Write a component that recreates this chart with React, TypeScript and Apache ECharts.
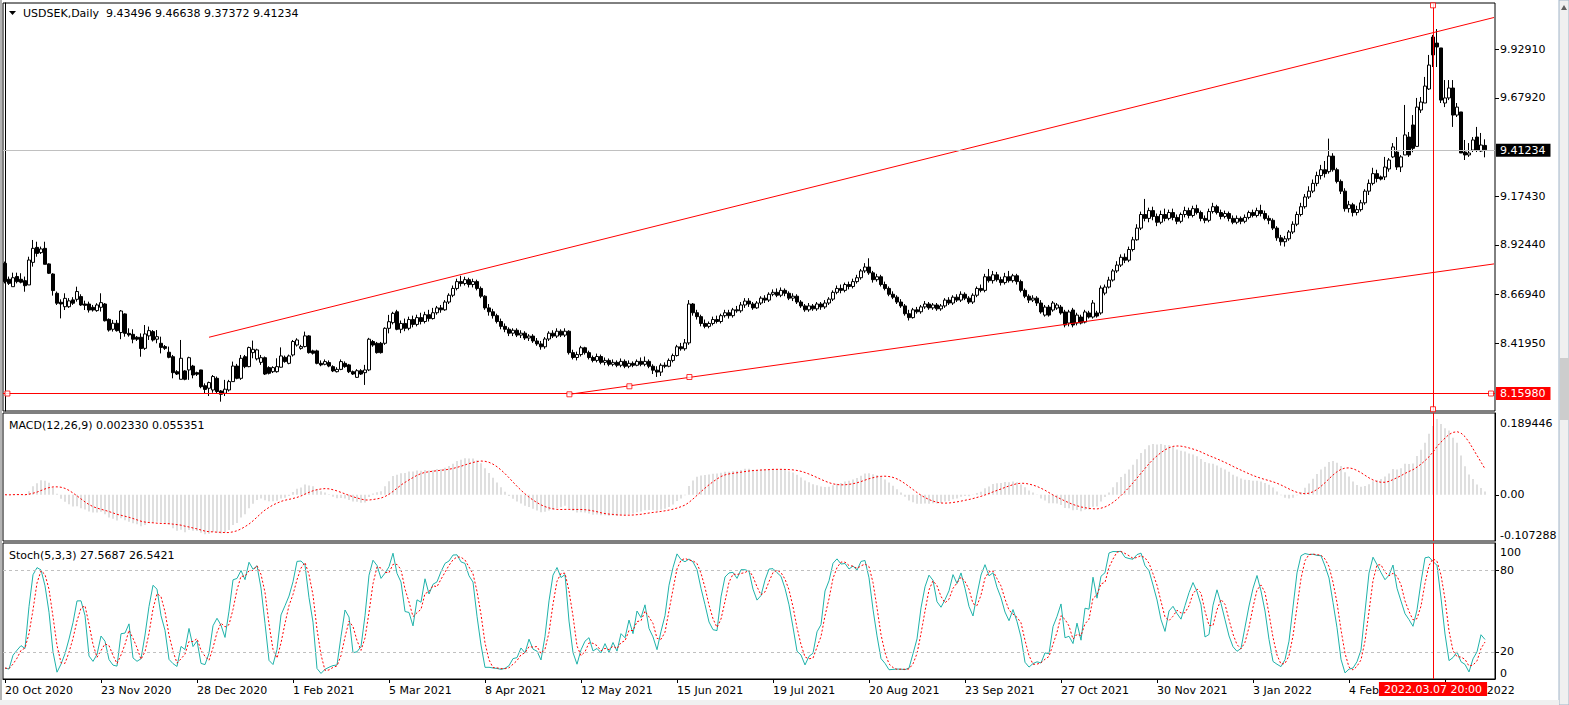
import React, { useEffect, useRef } from "react";
import * as echarts from "echarts";

const MONTHS = ["Jan", "Feb", "Mar", "Apr", "May", "Jun", "Jul", "Aug", "Sep", "Oct", "Nov", "Dec"];
const SLOTS = 373;
const LABEL_EVERY = 24;

const priceTicks = [8.4195, 8.6694, 8.9244, 9.1743, 9.6792, 9.9291];
const macdTicks = [-0.107288, 0, 0.189446];
const stochTicks = [0, 20, 80, 100];
const stochLevels = [20, 80];
const bidPrice = 9.41234;
const hLinePrice = 8.1598;
const vLineIndex = 357;
const vLineLabel = "2022.03.07 20:00";
const upperTrend = [[51, 8.449], [372.25, 10.0925]];
const lowerTrend = [[141.1, 8.1558], [372.25, 8.826]];
const handles = [[141.1, 8.1558], [156.1, 8.197], [171.1, 8.2447], [0.6, 8.1598], [371.5, 8.1598], [357, 10.155], [357, 8.079]];

const open = [8.829,8.747,8.709,8.761,8.747,8.740,8.718,8.834,8.911,8.884, 8.906,8.826,8.774,8.675,8.629,8.606,8.606,8.641,8.644,8.658, 8.620,8.620,8.603,8.586,8.603,8.620,8.541,8.490,8.521,8.473, 8.569,8.469,8.464,8.449,8.449,8.392,8.456,8.478,8.439,8.418, 8.401,8.372,8.349,8.272,8.233,8.276,8.281,8.301,8.267,8.281, 8.200,8.187,8.178,8.238,8.173,8.161,8.178,8.221,8.301,8.238, 8.349,8.298,8.370,8.338,8.320,8.344,8.293,8.272,8.272,8.295, 8.346,8.315,8.358,8.409,8.392,8.401,8.456,8.379,8.379,8.315, 8.310,8.319,8.298,8.272,8.284,8.315,8.307,8.272,8.243,8.277, 8.267,8.281,8.427,8.418,8.418,8.418,8.495,8.524,8.580,
8.490,8.520,8.495,8.540,8.515,8.550,8.530,8.565,8.545,8.575, 8.600,8.590,8.630,8.665,8.700,8.735,8.725,8.745,8.720,8.735, 8.700,8.660,8.600,8.580,8.560,8.530,8.505,8.490,8.470,8.485, 8.460,8.470,8.445,8.455,8.430,8.415,8.400,8.440,8.470,8.455, 8.480,8.460,8.480,8.370,8.345,8.360,8.395,8.370,8.345,8.330, 8.350,8.320,8.330,8.310,8.320,8.305,8.325,8.300,8.315,8.305, 8.325,8.310,8.325,8.300,8.280,8.270,8.305,8.300,8.330,8.355, 8.400,8.390,8.420,8.620,8.575,8.555,8.520,8.505,8.520,8.540, 8.530,8.560,8.575,8.560,8.590,8.585,8.615,8.635,8.620,8.600, 8.625,8.650,8.640,8.670,8.680,8.665,8.690,8.675,8.650,8.660, 8.630,8.610,8.590,8.610,8.595,8.620,8.605,8.625,8.645,8.680, 8.700,8.690,8.720,8.710,8.735,8.755,8.790,8.810,8.780,8.745, 8.760,8.720,8.700,8.670,8.655,8.630,8.610,8.570,8.550,8.590, 8.580,8.605,8.620,8.600,8.615,8.595,8.610,8.640,8.625,8.655, 8.640,8.670,8.650,8.630,8.665,8.700,8.690,8.760,8.740,8.770, 8.745,8.730,8.760,8.740,8.765,8.735,8.690,8.660,8.640,8.650, 8.625,8.563,8.604,8.589,8.599,8.604,8.579,8.522,8.589,8.522, 8.553,8.527,8.574,8.553,8.574,8.574,8.676,8.707,8.743,8.790, 8.820,8.860,8.845,8.900,8.950,9.010,9.080,9.060,9.100,9.070, 9.040,9.080,9.060,9.090,9.065,9.045,9.080,9.100,9.075,9.110, 9.090,9.060,9.050,9.095,9.120,9.090,9.070,9.085,9.060,9.040, 9.060,9.045,9.065,9.090,9.075,9.100,9.085,9.060,9.050,9.010, 8.960,8.940,8.955,8.990,9.030,9.080,9.120,9.170,9.200,9.240, 9.280,9.310,9.300,9.380,9.310,9.250,9.200,9.110,9.130,9.090, 9.105,9.140,9.200,9.240,9.290,9.273,9.273,9.314,9.376,9.401, 9.324,9.386,9.478,9.540,9.430,9.617,9.653,9.725,9.992,9.961, 9.936,9.653,9.679,9.730,9.591,9.607,9.401,9.386,9.411,9.478, 9.406,9.43496];
const high = [8.838,8.761,8.781,8.781,8.778,8.761,8.863,8.949,8.940,8.915, 8.940,8.829,8.778,8.684,8.644,8.675,8.650,8.655,8.709,8.670, 8.637,8.632,8.615,8.624,8.675,8.625,8.546,8.538,8.538,8.589, 8.572,8.495,8.490,8.455,8.469,8.512,8.504,8.486,8.486,8.452, 8.409,8.401,8.358,8.280,8.435,8.280,8.349,8.307,8.272,8.282, 8.212,8.221,8.255,8.247,8.178,8.230,8.230,8.324,8.312,8.358, 8.358,8.401,8.432,8.390,8.358,8.350,8.300,8.300,8.341,8.397, 8.355,8.360,8.435,8.444,8.410,8.478,8.460,8.385,8.385,8.330, 8.335,8.330,8.305,8.295,8.335,8.325,8.312,8.278,8.285,8.285, 8.307,8.446,8.435,8.425,8.425,8.500,8.564,8.580,8.590,
8.535,8.545,8.555,8.560,8.565,8.575,8.580,8.590,8.600,8.610, 8.615,8.640,8.675,8.715,8.750,8.765,8.760,8.755,8.750,8.745, 8.710,8.665,8.620,8.595,8.570,8.545,8.520,8.500,8.495,8.495, 8.485,8.480,8.465,8.465,8.445,8.430,8.450,8.480,8.485,8.495, 8.490,8.495,8.485,8.385,8.375,8.405,8.400,8.380,8.355,8.365, 8.360,8.345,8.340,8.335,8.330,8.340,8.335,8.330,8.325,8.335, 8.345,8.350,8.335,8.310,8.300,8.315,8.320,8.340,8.365,8.410, 8.420,8.440,8.640,8.625,8.590,8.565,8.540,8.530,8.555,8.560, 8.570,8.590,8.590,8.600,8.610,8.630,8.650,8.650,8.630,8.635, 8.660,8.665,8.680,8.695,8.700,8.705,8.700,8.685,8.675,8.670, 8.640,8.620,8.625,8.620,8.630,8.630,8.640,8.655,8.690,8.715, 8.720,8.730,8.735,8.750,8.770,8.800,8.830,8.855,8.790,8.775, 8.770,8.735,8.710,8.685,8.665,8.645,8.620,8.590,8.600,8.605, 8.615,8.635,8.630,8.625,8.625,8.620,8.650,8.655,8.665,8.670, 8.685,8.680,8.660,8.675,8.710,8.720,8.775,8.800,8.790,8.785, 8.760,8.780,8.790,8.775,8.775,8.745,8.700,8.670,8.665,8.660, 8.640,8.615,8.615,8.635,8.625,8.615,8.590,8.590,8.600,8.575, 8.565,8.590,8.585,8.640,8.585,8.715,8.720,8.760,8.800,8.840, 8.875,8.880,8.915,8.965,9.030,9.095,9.160,9.115,9.120,9.085, 9.100,9.110,9.105,9.110,9.080,9.090,9.120,9.115,9.125,9.130, 9.100,9.075,9.110,9.140,9.130,9.105,9.100,9.095,9.075,9.075, 9.070,9.080,9.100,9.105,9.115,9.130,9.100,9.075,9.060,9.020, 8.975,8.970,9.000,9.045,9.095,9.140,9.185,9.225,9.260,9.300, 9.335,9.355,9.470,9.395,9.320,9.260,9.215,9.150,9.140,9.125, 9.155,9.210,9.260,9.320,9.310,9.280,9.376,9.370,9.447,9.478, 9.385,9.643,9.504,9.591,9.679,9.684,9.787,9.900,10.003,10.033, 9.936,9.771,9.771,9.771,9.653,9.607,9.463,9.447,9.478,9.530, 9.499,9.46638];
const low = [8.726,8.718,8.709,8.726,8.726,8.683,8.718,8.812,8.863,8.877, 8.824,8.774,8.663,8.615,8.546,8.589,8.600,8.615,8.632,8.610, 8.589,8.576,8.581,8.580,8.581,8.530,8.478,8.478,8.478,8.439, 8.452,8.452,8.418,8.430,8.349,8.384,8.435,8.427,8.418,8.366, 8.384,8.341,8.238,8.255,8.233,8.228,8.230,8.238,8.250,8.187, 8.161,8.147,8.164,8.161,8.118,8.147,8.170,8.221,8.233,8.230, 8.290,8.295,8.341,8.330,8.307,8.255,8.258,8.265,8.267,8.293, 8.318,8.310,8.350,8.401,8.385,8.397,8.365,8.360,8.310,8.300, 8.305,8.295,8.270,8.268,8.280,8.292,8.265,8.255,8.240,8.255, 8.204,8.275,8.400,8.365,8.365,8.410,8.469,8.515,8.485,
8.470,8.480,8.485,8.500,8.505,8.515,8.520,8.530,8.540,8.565, 8.575,8.585,8.620,8.655,8.690,8.710,8.715,8.705,8.705,8.690, 8.650,8.590,8.560,8.545,8.520,8.490,8.475,8.455,8.455,8.450, 8.445,8.435,8.430,8.420,8.405,8.385,8.390,8.430,8.445,8.445, 8.450,8.450,8.360,8.335,8.330,8.350,8.360,8.335,8.320,8.320, 8.310,8.305,8.300,8.300,8.295,8.295,8.290,8.290,8.295,8.300, 8.300,8.300,8.290,8.260,8.245,8.250,8.290,8.295,8.320,8.350, 8.380,8.380,8.410,8.560,8.540,8.505,8.495,8.495,8.510,8.520, 8.520,8.550,8.545,8.550,8.575,8.575,8.600,8.605,8.590,8.595, 8.615,8.625,8.630,8.660,8.655,8.655,8.660,8.640,8.635,8.620, 8.600,8.580,8.580,8.585,8.585,8.590,8.595,8.615,8.635,8.670, 8.675,8.680,8.695,8.700,8.725,8.745,8.780,8.770,8.730,8.735, 8.710,8.690,8.660,8.645,8.620,8.600,8.560,8.535,8.545,8.570, 8.570,8.595,8.590,8.590,8.585,8.585,8.600,8.615,8.615,8.630, 8.630,8.640,8.620,8.620,8.655,8.680,8.680,8.730,8.725,8.735, 8.715,8.720,8.730,8.730,8.720,8.680,8.650,8.625,8.630,8.610, 8.570,8.555,8.555,8.580,8.590,8.565,8.500,8.505,8.500,8.510, 8.515,8.520,8.545,8.545,8.550,8.565,8.665,8.700,8.735,8.780, 8.810,8.830,8.835,8.890,8.945,9.000,9.045,9.040,9.050,9.020, 9.030,9.045,9.050,9.050,9.030,9.035,9.065,9.060,9.065,9.080, 9.045,9.035,9.040,9.085,9.080,9.055,9.060,9.045,9.030,9.030, 9.030,9.035,9.055,9.065,9.065,9.070,9.050,9.030,9.000,8.945, 8.920,8.915,8.945,8.980,9.020,9.070,9.110,9.160,9.190,9.225, 9.260,9.270,9.290,9.300,9.240,9.185,9.095,9.090,9.070,9.075, 9.095,9.130,9.180,9.230,9.245,9.255,9.257,9.300,9.370,9.309, 9.298,9.386,9.376,9.400,9.430,9.602,9.653,9.720,9.838,9.838, 9.653,9.632,9.668,9.530,9.581,9.396,9.360,9.376,9.401,9.401, 9.401,9.37372];
const close = [8.735,8.726,8.755,8.735,8.732,8.714,8.846,8.906,8.880,8.903, 8.824,8.778,8.689,8.624,8.620,8.649,8.636,8.624,8.684,8.615, 8.613,8.589,8.589,8.615,8.627,8.534,8.486,8.521,8.483,8.584, 8.469,8.461,8.439,8.439,8.391,8.466,8.483,8.435,8.452,8.397, 8.392,8.346,8.267,8.260,8.341,8.233,8.344,8.255,8.259,8.195, 8.181,8.216,8.247,8.170,8.156,8.182,8.221,8.301,8.238,8.341, 8.298,8.396,8.387,8.384,8.344,8.260,8.264,8.293,8.298,8.353, 8.324,8.353,8.427,8.435,8.401,8.456,8.370,8.367,8.315,8.307, 8.324,8.301,8.276,8.284,8.324,8.298,8.272,8.260,8.277,8.260, 8.281,8.439,8.409,8.370,8.370,8.495,8.529,8.572,8.490,
8.520,8.495,8.540,8.515,8.550,8.530,8.565,8.545,8.575,8.600, 8.590,8.630,8.665,8.700,8.735,8.725,8.745,8.720,8.735,8.700, 8.660,8.600,8.580,8.560,8.530,8.505,8.490,8.470,8.485,8.460, 8.470,8.445,8.455,8.430,8.415,8.400,8.440,8.470,8.455,8.480, 8.460,8.480,8.370,8.345,8.360,8.395,8.370,8.345,8.330,8.350, 8.320,8.330,8.310,8.320,8.305,8.325,8.300,8.315,8.305,8.325, 8.310,8.325,8.300,8.280,8.270,8.305,8.300,8.330,8.355,8.400, 8.390,8.420,8.620,8.575,8.555,8.520,8.505,8.520,8.540,8.530, 8.560,8.575,8.560,8.590,8.585,8.615,8.635,8.620,8.600,8.625, 8.650,8.640,8.670,8.680,8.665,8.690,8.675,8.650,8.660,8.630, 8.610,8.590,8.610,8.595,8.620,8.605,8.625,8.645,8.680,8.700, 8.690,8.720,8.710,8.735,8.755,8.790,8.810,8.780,8.745,8.760, 8.720,8.700,8.670,8.655,8.630,8.610,8.570,8.550,8.590,8.580, 8.605,8.620,8.600,8.615,8.595,8.610,8.640,8.625,8.655,8.640, 8.670,8.650,8.630,8.665,8.700,8.690,8.760,8.740,8.770,8.745, 8.730,8.760,8.740,8.765,8.735,8.690,8.660,8.640,8.650,8.625, 8.579,8.604,8.563,8.625,8.615,8.574,8.512,8.579,8.512,8.563, 8.522,8.579,8.553,8.625,8.558,8.702,8.707,8.743,8.790,8.820, 8.860,8.845,8.900,8.950,9.010,9.080,9.060,9.100,9.070,9.040, 9.080,9.060,9.090,9.065,9.045,9.080,9.100,9.075,9.110,9.090, 9.060,9.050,9.095,9.120,9.090,9.070,9.085,9.060,9.040,9.060, 9.045,9.065,9.090,9.075,9.100,9.085,9.060,9.050,9.010,8.960, 8.940,8.955,8.990,9.030,9.080,9.120,9.170,9.200,9.240,9.280, 9.310,9.290,9.380,9.310,9.250,9.200,9.110,9.130,9.090,9.105, 9.140,9.200,9.240,9.290,9.265,9.262,9.324,9.360,9.427,9.324, 9.376,9.489,9.386,9.420,9.632,9.658,9.740,9.848,9.900,9.941, 9.668,9.679,9.730,9.591,9.632,9.396,9.386,9.396,9.463,9.411, 9.437,9.41234];

function tradingDays(n: number): string[] {
  const out: string[] = [];
  const d = new Date(Date.UTC(2020, 9, 20));
  while (out.length < n) {
    const wd = d.getUTCDay();
    const m = d.getUTCMonth();
    const day = d.getUTCDate();
    const holiday = (m === 11 && day === 25) || (m === 0 && day === 1);
    if (wd !== 0 && wd !== 6 && !holiday) out.push(`${day} ${MONTHS[m]} ${d.getUTCFullYear()}`);
    d.setUTCDate(day + 1);
  }
  return out;
}

function ema(src: number[], n: number): number[] {
  const k = 2 / (n + 1);
  const out: number[] = [];
  src.forEach((v, i) => out.push(i === 0 ? v : v * k + out[i - 1] * (1 - k)));
  return out;
}
function sma(src: number[], n: number): number[] {
  return src.map((_, i) => {
    const s = src.slice(Math.max(0, i - n + 1), i + 1);
    return s.reduce((a, b) => a + b, 0) / s.length;
  });
}

const FONT = '"DejaVu Sans", Verdana, sans-serif';
const AXIS_X = 1495;

export default function App() {
  const ref = useRef<HTMLDivElement>(null);
  useEffect(() => {
    if (!ref.current) return;
    const chart = echarts.init(ref.current, undefined, { renderer: "svg" });
    const dates = tradingDays(SLOTS);
    const n = close.length;
    const candles = close.map((c, i) => [open[i], c, low[i], high[i]]);
    const e12 = ema(close, 12);
    const e26 = ema(close, 26);
    const macd = close.map((_, i) => e12[i] - e26[i]);
    const signal = sma(macd, 9);
    const rawNum: number[] = [];
    const rawDen: number[] = [];
    for (let i = 0; i < n; i++) {
      const s = Math.max(0, i - 4);
      const ll = Math.min(...low.slice(s, i + 1));
      const hh = Math.max(...high.slice(s, i + 1));
      rawNum.push(close[i] - ll);
      rawDen.push(hh - ll);
    }
    const stK = rawNum.map((_, i) => {
      const s = Math.max(0, i - 2);
      const num = rawNum.slice(s, i + 1).reduce((a, b) => a + b, 0);
      const den = rawDen.slice(s, i + 1).reduce((a, b) => a + b, 0);
      return den === 0 ? 50 : (100 * num) / den;
    });
    const stD = sma(stK, 3);

    const axisText = { fontSize: 11, fontFamily: FONT, color: "#000" };
    const labelFilter = (i: number) => i % LABEL_EVERY === 0;
    const gridBase = { left: 3, right: 1569 - AXIS_X, show: true, borderColor: "#000", borderWidth: 1, backgroundColor: "transparent" };
    const hiddenCat = (gi: number) => ({
      type: "category", gridIndex: gi, data: dates, boundaryGap: true,
      axisLine: { show: false }, axisTick: { show: false }, axisLabel: { show: false }, splitLine: { show: false },
    });
    const noTick = { show: false };

    const option: any = {
      animation: false,
      backgroundColor: "#fff",
      grid: [
        { ...gridBase, top: 3, height: 408 },
        { ...gridBase, top: 413, height: 128 },
        { ...gridBase, top: 543, height: 136 },
      ],
      xAxis: [
        hiddenCat(0),
        hiddenCat(1),
        {
          type: "category", gridIndex: 2, data: dates, boundaryGap: true,
          axisLine: { show: true, lineStyle: { color: "#000" } },
          axisTick: { show: true, interval: labelFilter, alignWithLabel: true, length: 4, lineStyle: { color: "#000" } },
          axisLabel: { show: true, interval: labelFilter, align: "left", margin: 6, ...axisText },
          splitLine: { show: false },
        },
        { type: "value", gridIndex: 0, min: -0.5, max: SLOTS - 0.5, show: false },
      ],
      yAxis: [
        {
          type: "value", gridIndex: 0, position: "right", min: 8.07, max: 10.167,
          axisLine: { show: true, lineStyle: { color: "#000" } },
          axisTick: noTick,
          axisLabel: { show: true, customValues: priceTicks, margin: 5, formatter: (v: number) => v.toFixed(5), ...axisText },
          splitLine: { show: false },
        },
        {
          type: "value", gridIndex: 1, position: "right", min: macdTicks[0], max: macdTicks[2],
          axisLine: { show: true, lineStyle: { color: "#000" } },
          axisTick: noTick,
          axisLabel: {
            show: true, customValues: macdTicks, margin: 5, ...axisText,
            verticalAlignMaxLabel: "top", verticalAlignMinLabel: "bottom",
            formatter: (v: number) => (v === macdTicks[2] ? `{top|${v.toFixed(6)}}` : v === 0 ? "0.00" : v.toFixed(6)),
            rich: { top: { ...axisText, padding: [5, 0, 0, 0] } },
          },
          splitLine: { show: false },
        },
        {
          type: "value", gridIndex: 2, position: "right", min: 0, max: 100,
          axisLine: { show: true, lineStyle: { color: "#000" } },
          axisTick: noTick,
          axisLabel: {
            show: true, customValues: stochTicks, margin: 5, ...axisText,
            verticalAlignMaxLabel: "top", verticalAlignMinLabel: "bottom",
            formatter: (v: number) => (v === 100 ? `{top|${v}}` : `${v}`),
            rich: { top: { ...axisText, padding: [4, 0, 0, 0] } },
          },
          splitLine: { show: false },
        },
      ],
      series: [
        {
          type: "candlestick", xAxisIndex: 0, yAxisIndex: 0, data: candles, barWidth: 3,
          itemStyle: { color: "#fff", color0: "#000", borderColor: "#000", borderColor0: "#000", borderWidth: 1 },
          markLine: {
            silent: true, symbol: ["none", "none"], animation: false,
            data: [
              {
                yAxis: bidPrice, lineStyle: { color: "#c0c0c0", width: 1, type: "solid" },
                label: { show: true, position: "end", distance: 1, formatter: bidPrice.toFixed(5), backgroundColor: "#000", padding: [1, 5, 1, 4], ...axisText, color: "#fff" },
              },
              {
                yAxis: hLinePrice, lineStyle: { color: "#ff0000", width: 1, type: "solid" },
                label: { show: true, position: "end", distance: 1, formatter: hLinePrice.toFixed(5), backgroundColor: "#ff0000", padding: [1, 5, 1, 4], ...axisText, color: "#fff" },
              },
              { xAxis: dates[vLineIndex], lineStyle: { color: "#ff0000", width: 1, type: "solid" }, label: { show: false } },
            ],
          },
        },
        { type: "line", xAxisIndex: 3, yAxisIndex: 0, data: upperTrend, showSymbol: false, lineStyle: { color: "#ff0000", width: 1 }, silent: true },
        { type: "line", xAxisIndex: 3, yAxisIndex: 0, data: lowerTrend, showSymbol: false, lineStyle: { color: "#ff0000", width: 1 }, silent: true },
        {
          type: "scatter", xAxisIndex: 3, yAxisIndex: 0, data: handles, symbol: "rect", symbolSize: 5, z: 5,
          itemStyle: { color: "#fff", borderColor: "#ff0000", borderWidth: 1 }, silent: true,
        },
        {
          type: "bar", xAxisIndex: 1, yAxisIndex: 1, data: macd, barWidth: 1, itemStyle: { color: "#c0c0c0" },
          markLine: {
            silent: true, symbol: ["none", "none"], animation: false,
            data: [{ xAxis: dates[vLineIndex], lineStyle: { color: "#ff0000", width: 1, type: "solid" }, label: { show: false } }],
          },
        },
        {
          type: "line", xAxisIndex: 1, yAxisIndex: 1, data: signal, showSymbol: false,
          lineStyle: { color: "#ff0000", width: 1, type: [2, 2] },
        },
        {
          type: "line", xAxisIndex: 2, yAxisIndex: 2, data: stK, showSymbol: false,
          lineStyle: { color: "#20b2aa", width: 1 },
          markLine: {
            silent: true, symbol: ["none", "none"], animation: false,
            data: [
              ...stochLevels.map((v) => ({ yAxis: v, lineStyle: { color: "#c0c0c0", width: 1, type: [3, 3] }, label: { show: false } })),
              {
                xAxis: dates[vLineIndex], lineStyle: { color: "#ff0000", width: 1, type: "solid" },
                label: { show: true, position: "start", distance: 3, formatter: vLineLabel, backgroundColor: "#ff0000", padding: [2, 5, 1, 5], ...axisText, color: "#fff" },
              },
            ],
          },
        },
        {
          type: "line", xAxisIndex: 2, yAxisIndex: 2, data: stD, showSymbol: false,
          lineStyle: { color: "#ff0000", width: 1, type: [2, 2] },
        },
      ],
      graphic: [
        { id: "lf", type: "rect", shape: { x: 0, y: 0, width: 2, height: 705 }, style: { fill: "#b4b4b4" }, silent: true },
        { id: "sb", type: "rect", shape: { x: 1559, y: 0, width: 10, height: 705 }, style: { fill: "#f0f0f0", stroke: "#a0b4c8" }, silent: true },
        { id: "th", type: "rect", shape: { x: 1560, y: 358, width: 9, height: 62 }, style: { fill: "#cdcdcd" }, silent: true },
        { id: "ar", type: "polygon", shape: { points: [[1561, 10], [1567, 10], [1564, 5]] }, style: { fill: "#606060" }, silent: true },
        { id: "bt", type: "rect", shape: { x: 0, y: 700, width: 1559, height: 5 }, style: { fill: "#f0f0f0" }, silent: true },
        { id: "tri", type: "polygon", shape: { points: [[9, 11], [16, 11], [12.5, 15]] }, style: { fill: "#000" }, silent: true },
        { id: "t1", type: "text", x: 23, y: 13, style: { text: "USDSEK,Daily  9.43496 9.46638 9.37372 9.41234", font: `11px ${FONT}`, fill: "#000", verticalAlign: "middle" }, silent: true },
        { id: "t2", type: "text", x: 9, y: 425, style: { text: "MACD(12,26,9) 0.002330 0.055351", font: `11px ${FONT}`, fill: "#000", verticalAlign: "middle" }, silent: true },
        { id: "t3", type: "text", x: 9, y: 555, style: { text: "Stoch(5,3,3) 27.5687 26.5421", font: `11px ${FONT}`, fill: "#000", verticalAlign: "middle" }, silent: true },
      ],
    };
    chart.setOption(option);

    const ticks: any[] = [];
    const addTicks = (vals: number[], yAxisIndex: number) =>
      vals.forEach((v, k) => {
        const y = Math.round(chart.convertToPixel({ yAxisIndex }, v) as number) + 0.5;
        ticks.push({ id: `tk${yAxisIndex}_${k}`, type: "line", shape: { x1: AXIS_X, y1: y, x2: AXIS_X + 4, y2: y }, style: { stroke: "#000", lineWidth: 1 }, silent: true });
      });
    addTicks(priceTicks, 0);
    addTicks([0], 1);
    addTicks([20, 80], 2);
    chart.setOption({ graphic: ticks });

    return () => chart.dispose();
  }, []);
  return <div ref={ref} style={{ position: "absolute", left: 0, top: 0, width: 1569, height: 705 }} />;
}
